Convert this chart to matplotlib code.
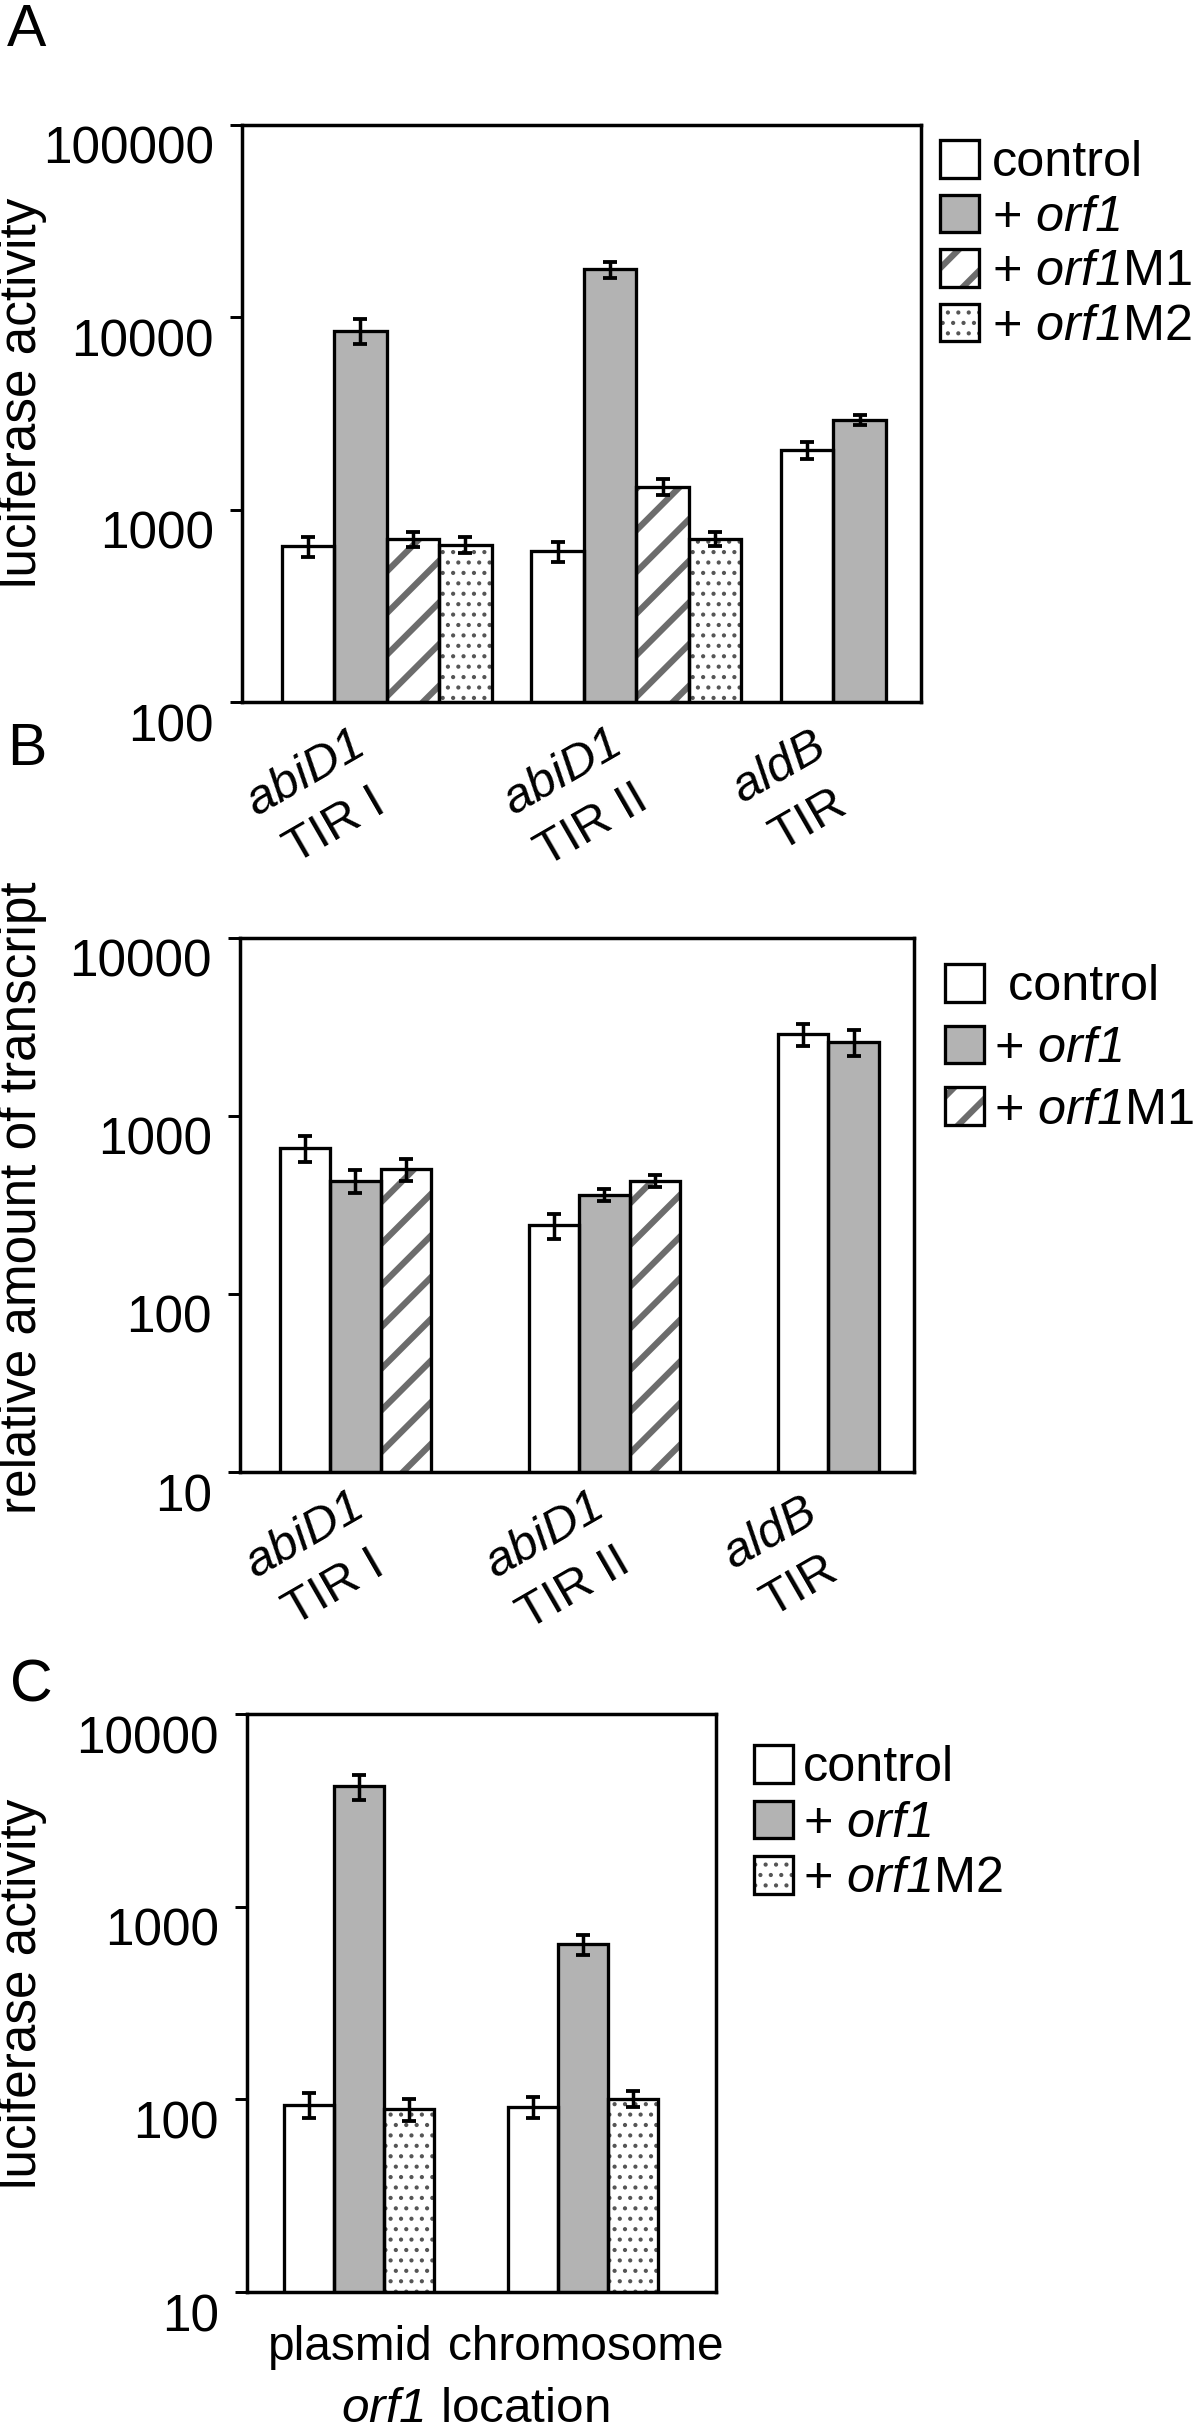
import numpy as np
import matplotlib
matplotlib.use("Agg")
import matplotlib.pyplot as plt
from matplotlib.transforms import offset_copy
from matplotlib.legend_handler import HandlerTuple, HandlerPatch
from matplotlib.patches import Rectangle
from matplotlib.ticker import NullLocator

plt.rcParams['font.family'] = ['Liberation Sans', 'DejaVu Sans']
plt.rcParams['mathtext.fontset'] = 'custom'
plt.rcParams['mathtext.rm'] = 'Liberation Sans'
plt.rcParams['mathtext.it'] = 'Liberation Sans:italic'
plt.rcParams['mathtext.sf'] = 'Liberation Sans:italic'
plt.rcParams['mathtext.bf'] = 'Liberation Sans:bold'

# ---------------- data ----------------
# Panel A: luciferase activity
a_categories = ["$\\mathsf{abiD1}$\nTIR I", "$\\mathsf{abiD1}$\nTIR II", "$\\mathsf{aldB}$\nTIR"]
a_control = [645, 608, 2034]
a_control_err = [75, 75, 210]
a_orf1 = [8530, 17730, 2932]
a_orf1_err = [1270, 1700, 175]
a_m1 = [703, 1316, np.nan]
a_m1_err = [64, 130, np.nan]
a_m2 = [656, 707, np.nan]
a_m2_err = [64, 60, np.nan]
a_yticks = [100, 1000, 10000, 100000]

# Panel B: relative amount of transcript
b_categories = ["$\\mathsf{abiD1}$\nTIR I", "$\\mathsf{abiD1}$\nTIR II", "$\\mathsf{aldB}$\nTIR"]
b_control = [660, 244, 2870]
b_control_err = [110, 39, 410]
b_orf1 = [432, 361, 2607]
b_orf1_err = [65, 28, 440]
b_m1 = [501, 432, np.nan]
b_m1_err = [72, 33, np.nan]
b_yticks = [10, 100, 1000, 10000]

# Panel C: luciferase activity by orf1 location
c_categories = ["plasmid", "chromosome"]
c_control = [93.7, 91.4]
c_control_err = [14, 11]
c_orf1 = [4210, 640]
c_orf1_err = [630, 77]
c_m2 = [89, 101]
c_m2_err = [12, 9.5]
c_yticks = [10, 100, 1000, 10000]

# ---------------- styles ----------------
W, H, DPI = 1200, 2430, 125
GRAY = '#b3b3b3'
STRIPE = '#6c6c6c'
DOT = '#555555'
STYLE = {
    'control': dict(fill='white', hatch=None, hcol='white', hlw=1.0),
    'orf1': dict(fill=GRAY, hatch=None, hcol=GRAY, hlw=1.0),
    'm1': dict(fill='white', hatch='/', hcol=STRIPE, hlw=3.6),
    'm2': dict(fill='white', hatch='..', hcol=DOT, hlw=1.2),
}

fig = plt.figure(figsize=(W / DPI, H / DPI), dpi=DPI)


class HatchPatchHandler(HandlerPatch):
    def update_prop(self, legend_handle, orig_handle, legend):
        super().update_prop(legend_handle, orig_handle, legend)
        if hasattr(orig_handle, 'get_hatch_linewidth') and hasattr(legend_handle, 'set_hatch_linewidth'):
            legend_handle.set_hatch_linewidth(orig_handle.get_hatch_linewidth())


HMAP = {tuple: HandlerTuple(ndivide=1, pad=0), Rectangle: HatchPatchHandler()}


def px_axes(l, t, r, b):
    return fig.add_axes([l / W, 1 - b / H, (r - l) / W, (b - t) / H])


def draw_series(ax, starts, i, vals, errs, key):
    st = STYLE[key]
    vals = np.asarray(vals, float)
    errs = np.asarray(errs, float)
    m = ~np.isnan(vals)
    x = np.asarray(starts)[m] + i
    plt.rcParams['hatch.linewidth'] = st['hlw']
    l1 = ax.bar(x, vals[m], width=1, align='edge', color=st['fill'],
                edgecolor=st['hcol'], linewidth=0, hatch=st['hatch'], zorder=2)
    for p in l1:
        if hasattr(p, 'set_hatch_linewidth'):
            p.set_hatch_linewidth(st['hlw'])
    l2 = ax.bar(x, vals[m], width=1, align='edge', fill=False,
                edgecolor='black', linewidth=1.9, zorder=3)
    ax.errorbar(x + 0.5, vals[m], yerr=errs[m], fmt='none', ecolor='black',
                elinewidth=2.0, capsize=4.3, capthick=2.2, zorder=4)
    return (l1[0], l2[0])


def style_axes(ax, yticks, xlim, ylim):
    ax.set_yscale('log')
    ax.set_xlim(*xlim)
    ax.set_ylim(*ylim)
    ax.set_yticks(yticks)
    ax.yaxis.set_minor_locator(NullLocator())
    ax.set_yticklabels([])
    ax.set_xticks([])
    for s in ax.spines.values():
        s.set_linewidth(2.0)
    ax.tick_params(axis='y', direction='out', length=7, width=1.7)
    tr = offset_copy(ax.get_yaxis_transform(), fig=fig, x=-28, y=-39, units='dots')
    for v in yticks:
        ax.text(0, v, f"{v}", transform=tr, ha='right', va='baseline', fontsize=29.5)


def add_legend(handles, labels, x, y, spacing, tpad):
    return fig.legend(handles, labels, handler_map=HMAP,
                      loc='upper left', bbox_to_anchor=(x / W, 1 - y / H),
                      frameon=False, fontsize=29, handlelength=0.78, handleheight=0.78,
                      handletextpad=tpad, labelspacing=spacing, borderpad=0, borderaxespad=0)


def category_labels(labels, centers):
    for lab, (cx, cy) in zip(labels, centers):
        fig.text(cx / W, 1 - cy / H, lab, rotation=30, rotation_mode='anchor',
                 ha='center', va='center', fontsize=28.5, multialignment='center', linespacing=1.42)


# ---------------- Panel A ----------------
axA = px_axes(242, 125, 921, 702)
stepA = 4.76
startsA = np.arange(len(a_categories)) * stepA
hA = [draw_series(axA, startsA, 0, a_control, a_control_err, 'control'),
      draw_series(axA, startsA, 1, a_orf1, a_orf1_err, 'orf1'),
      draw_series(axA, startsA, 2, a_m1, a_m1_err, 'm1'),
      draw_series(axA, startsA, 3, a_m2, a_m2_err, 'm2')]
style_axes(axA, a_yticks, (-0.76, 12.19), (100, 100000))
add_legend(hA, ['control', '+ $\\mathsf{orf1}$', '+ $\\mathsf{orf1}$M1', '+ $\\mathsf{orf1}$M2'],
           940, 140, 0.16, 0.25)
fig.text(23 / W, 1 - 393 / H, 'luciferase activity', rotation=90, ha='center', va='center', fontsize=29.5)
category_labels(a_categories, [(320, 801), (577, 800), (794, 794)])
fig.text(7 / W, 1 - 46 / H, 'A', ha='left', va='baseline', fontsize=34)

# ---------------- Panel B ----------------
axB = px_axes(240, 938, 914, 1472)
stepB = 4.94
startsB = np.arange(len(b_categories)) * stepB
hB = [draw_series(axB, startsB, 0, b_control, b_control_err, 'control'),
      draw_series(axB, startsB, 1, b_orf1, b_orf1_err, 'orf1'),
      draw_series(axB, startsB, 2, b_m1, b_m1_err, 'm1')]
style_axes(axB, b_yticks, (-0.79, 12.58), (10, 10000))
add_legend(hB, [' control', '+ $\\mathsf{orf1}$', '+ $\\mathsf{orf1}$M1'], 945, 964, 0.3, 0.2)
fig.text(23 / W, 1 - 1198 / H, 'relative amount of transcript', rotation=90, ha='center', va='center', fontsize=29.5)
category_labels(b_categories, [(319, 1563), (559, 1563), (785, 1560)])
fig.text(7 / W, 1 - 765 / H, 'B', ha='left', va='baseline', fontsize=34)

# ---------------- Panel C ----------------
axC = px_axes(247, 1714, 716, 2292)
stepC = 4.48
startsC = np.arange(len(c_categories)) * stepC
hC = [draw_series(axC, startsC, 0, c_control, c_control_err, 'control'),
      draw_series(axC, startsC, 1, c_orf1, c_orf1_err, 'orf1'),
      draw_series(axC, startsC, 2, c_m2, c_m2_err, 'm2')]
style_axes(axC, c_yticks, (-0.74, 8.64), (10, 10000))
for lab, cx in zip(c_categories, [350, 586]):
    fig.text(cx / W, 1 - 2360 / H, lab, ha='center', va='baseline', fontsize=27.5)
add_legend(hC, ['control', '+ $\\mathsf{orf1}$', '+ $\\mathsf{orf1}$M2'], 754, 1745, 0.18, 0.2)
fig.text(23 / W, 1 - 1994 / H, 'luciferase activity', rotation=90, ha='center', va='center', fontsize=29.5)
fig.text(475 / W, 1 - 2422 / H, '$\\mathsf{orf1}$ location', ha='center', va='baseline', fontsize=28.5)
fig.text(10 / W, 1 - 1701 / H, 'C', ha='left', va='baseline', fontsize=34)

fig.savefig('out.png', dpi=DPI)
